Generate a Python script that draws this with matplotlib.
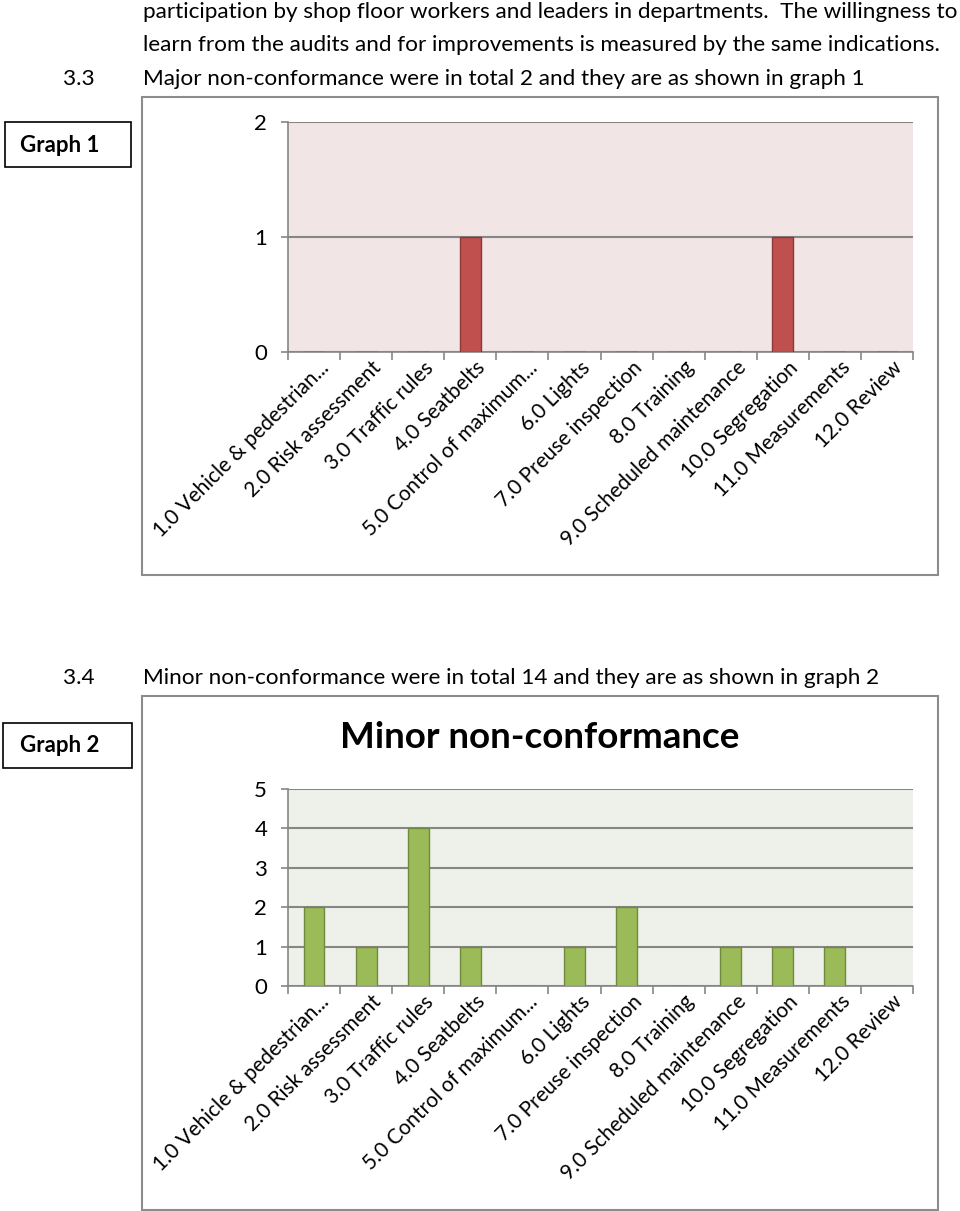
import numpy as np
import matplotlib.pyplot as plt
from matplotlib.patches import Rectangle

plt.rcParams['font.family'] = ['Lato', 'DejaVu Sans']

W, H = 960, 1211

categories = ['1.0 Vehicle & pedestrian...', '2.0 Risk assessment', '3.0 Traffic rules',
              '4.0 Seatbelts', '5.0 Control of maximum...', '6.0 Lights',
              '7.0 Preuse inspection', '8.0 Training', '9.0 Scheduled maintenance',
              '10.0 Segregation', '11.0 Measurements', '12.0 Review']
major_nc = [0, 0, 0, 1, 0, 0, 0, 0, 0, 1, 0, 0]
minor_nc = [2, 1, 4, 1, 0, 1, 2, 0, 1, 1, 1, 0]

GRID = '#868686'


def fx(x):
    return x / W


def fy(y):
    return 1 - y / H


def box(fig, x0, y0, x1, y1, color, lw):
    fig.patches.append(Rectangle((fx(x0), fy(y1)), fx(x1) - fx(x0), fy(y0) - fy(y1),
                                 transform=fig.transFigure, fill=False,
                                 edgecolor=color, linewidth=lw))


def bar_chart(fig, rect, values, ymax, face, edge, bg):
    x0, y0, x1, y1 = rect
    ax = fig.add_axes([fx(x0), fy(y1), fx(x1) - fx(x0), fy(y0) - fy(y1)])
    ax.set_facecolor(bg)
    x = np.arange(len(categories))
    ax.bar(x, values, width=0.4, color=face, edgecolor=edge, linewidth=1.0, zorder=3)
    ax.set_xlim(-0.5, len(categories) - 0.5)
    ax.set_ylim(0, ymax)
    ax.set_yticks(range(ymax + 1))
    ax.yaxis.grid(True, color=GRID, linewidth=1.5, zorder=1)
    ax.set_axisbelow(True)
    # labels sit a little right of the category centre, like Excel does
    ax.set_xticks(x + 0.1)
    ax.set_xticklabels(categories, rotation=45, ha='right', va='top',
                       rotation_mode='anchor', fontsize=15)
    ax.set_xticks(np.arange(-0.5, len(categories)), minor=True)
    ax.tick_params(axis='x', which='major', length=0, pad=4)
    ax.tick_params(axis='x', which='minor', length=6, color=GRID, width=1.2)
    ax.tick_params(axis='y', length=5, color=GRID, width=1.2, labelsize=16, pad=10)
    for s in ['top', 'right']:
        ax.spines[s].set_visible(False)
    for s in ['left', 'bottom']:
        ax.spines[s].set_color(GRID)
        ax.spines[s].set_linewidth(1.2)
    return ax


fig = plt.figure(figsize=(W / 100, H / 100), dpi=100)

body = 16.2
fig.text(fx(143), fy(12), 'participation by shop floor workers and leaders in departments.  The willingness to',
         fontsize=body, va='center', ha='left')
fig.text(fx(143), fy(45), 'learn from the audits and for improvements is measured by the same indications.',
         fontsize=body, va='center', ha='left')
fig.text(fx(63), fy(79), '3.3', fontsize=body, va='center', ha='left')
fig.text(fx(143), fy(79), 'Major non-conformance were in total 2 and they are as shown in graph 1',
         fontsize=body, va='center', ha='left')

box(fig, 5, 122, 131, 167, 'black', 1.2)
fig.text(fx(60), fy(146), 'Graph 1', fontsize=16, fontweight='bold', ha='center', va='center')
box(fig, 142, 97, 938, 575, '#8c8c8c', 1.5)
bar_chart(fig, (288, 122, 913, 352), major_nc, 2, '#c0504d', '#8c3836', '#f2e5e5')

fig.text(fx(63), fy(678), '3.4', fontsize=body, va='center', ha='left')
fig.text(fx(143), fy(678), 'Minor non-conformance were in total 14 and they are as shown in graph 2',
         fontsize=body, va='center', ha='left')

box(fig, 3, 723, 132, 768, 'black', 1.2)
fig.text(fx(60), fy(746), 'Graph 2', fontsize=16, fontweight='bold', ha='center', va='center')
box(fig, 142, 696, 938, 1210, '#8c8c8c', 1.5)
fig.text(fx(540), fy(738), 'Minor non-conformance', fontsize=26.5, fontweight='bold',
         ha='center', va='center')
bar_chart(fig, (288, 789, 913, 986), minor_nc, 5, '#9bbb59', '#71893f', '#eef1e9')

fig.savefig('out.png', dpi=100)
